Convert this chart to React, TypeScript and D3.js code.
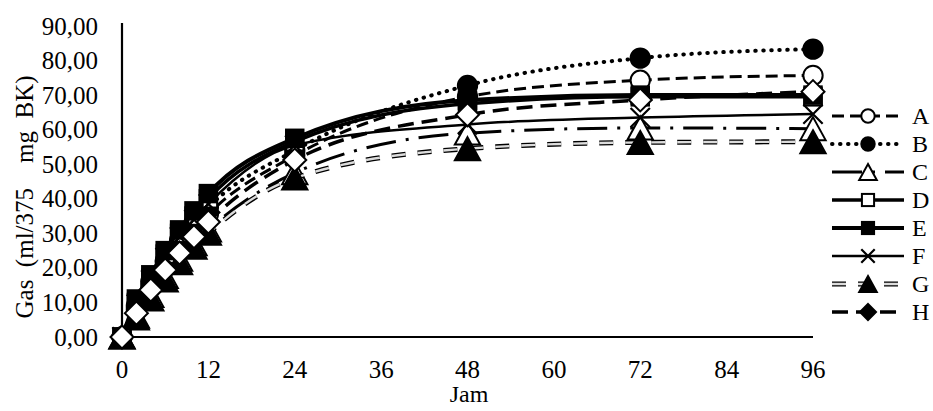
import React from "react";
import * as d3 from "d3";

const hours = [0, 2, 4, 6, 8, 10, 12, 24, 48, 72, 96];
const seriesNames = ["A", "B", "C", "D", "E", "F", "G", "H"];
const seriesA = [0, 8, 14.5, 20.5, 26, 31, 35.5, 52.5, 69.5, 74.3, 75.7];
const seriesB = [0, 9, 16, 22, 28, 33, 37.5, 54, 72.8, 80.7, 83.3];
const seriesC = [0, 6, 12, 17.5, 22.5, 27, 31, 47.5, 59, 60.5, 60.3];
const seriesD = [0, 10, 17, 24, 30, 35, 40, 56.5, 67.5, 69.5, 69.5];
const seriesE = [0, 11, 18, 25, 31, 36.5, 41.5, 57.5, 68.5, 70, 70];
const seriesF = [0, 9.5, 16.5, 23, 29, 34, 38.5, 55.5, 61.5, 63.5, 64.5];
const seriesG = [0, 5.5, 11, 16.5, 21.5, 26, 30, 46, 54.5, 56.3, 56.5];
const seriesH = [0, 6.9, 13.6, 19.4, 24.3, 29, 33.3, 51.2, 64.3, 68.6, 71];
const seriesValues = [seriesA, seriesB, seriesC, seriesD, seriesE, seriesF, seriesG, seriesH];
const xTicks = [0, 12, 24, 36, 48, 60, 72, 84, 96];
const yTicks = [0, 10, 20, 30, 40, 50, 60, 70, 80, 90];

type Style = {
  dash: string | null;
  width: number;
  cap: "butt" | "round";
  marker: string;
  fill: string;
  legendFill?: string;
  inner?: string;
};

const styles: Style[] = [
  { dash: "12,6", width: 3, cap: "butt", marker: "circle", fill: "white" },
  { dash: "0.5,7.5", width: 4, cap: "round", marker: "circle", fill: "black" },
  { dash: "30,10,3,10", width: 3, cap: "butt", marker: "triangle", fill: "white" },
  { dash: null, width: 3.5, cap: "butt", marker: "square", fill: "white" },
  { dash: null, width: 4, cap: "butt", marker: "square", fill: "black" },
  { dash: null, width: 2.5, cap: "butt", marker: "x", fill: "none" },
  { dash: "14,12", width: 5, cap: "butt", marker: "triangle", fill: "black", inner: "#dcdcdc" },
  { dash: "16,8", width: 3.5, cap: "butt", marker: "diamond", fill: "white", legendFill: "black" },
];

const FONT = '"Liberation Serif", "Times New Roman", serif';

function Marker({ type, cx, cy, s, fill }: { type: string; cx: number; cy: number; s: number; fill: string }) {
  const sw = 2;
  if (type === "circle") return <circle cx={cx} cy={cy} r={s * 0.42} fill={fill} stroke="black" strokeWidth={sw} />;
  if (type === "square")
    return <rect x={cx - s * 0.38} y={cy - s * 0.38} width={s * 0.76} height={s * 0.76} fill={fill} stroke="black" strokeWidth={sw} />;
  if (type === "triangle") {
    const w = s * 0.55, h = s * 0.5;
    return <path d={`M${cx},${cy - h}L${cx + w},${cy + h}L${cx - w},${cy + h}Z`} fill={fill} stroke="black" strokeWidth={sw} strokeLinejoin="miter" />;
  }
  if (type === "diamond") {
    const h = s * 0.5;
    return <path d={`M${cx},${cy - h}L${cx + h},${cy}L${cx},${cy + h}L${cx - h},${cy}Z`} fill={fill} stroke="black" strokeWidth={sw} />;
  }
  if (type === "x") {
    const h = s * 0.42;
    return <path d={`M${cx - h},${cy - h}L${cx + h},${cy + h}M${cx - h},${cy + h}L${cx + h},${cy - h}`} stroke="black" strokeWidth={2.2} fill="none" />;
  }
  return null;
}

export default function App() {
  const width = 933, height = 411;
  const x = d3.scaleLinear().domain([0, 96]).range([122, 813]);
  const y = d3.scaleLinear().domain([0, 90]).range([337, 26]);
  const fmt = (v: number) => d3.format(".2f")(v).replace(".", ",");
  const line = d3
    .line<number>()
    .x((_, i) => x(hours[i]))
    .y((d) => y(d))
    .curve(d3.curveMonotoneX);

  const legX0 = 832, legX1 = 904, legMX = 868, legTX = 912, legY0 = 116, legDY = 28;

  return (
    <svg width={width} height={height} style={{ position: "absolute", left: 0, top: 0, background: "white" }}>
      {/* axes */}
      <line x1={x(0)} x2={x(0)} y1={y(90) - 3} y2={y(0)} stroke="black" strokeWidth={2.2} />
      <line x1={x(0)} x2={x(96)} y1={y(0)} y2={y(0)} stroke="black" strokeWidth={2.2} />
      {yTicks.map((t) => (
        <text key={"y" + t} x={98} y={y(t)} textAnchor="end" dominantBaseline="central" fontFamily={FONT} fontSize={25}>
          {fmt(t)}
        </text>
      ))}
      {xTicks.map((t) => (
        <text key={"x" + t} x={x(t)} y={369} textAnchor="middle" dominantBaseline="central" fontFamily={FONT} fontSize={25}>
          {t}
        </text>
      ))}
      <text x={469} y={394} textAnchor="middle" dominantBaseline="central" fontFamily={FONT} fontSize={24}>
        Jam
      </text>
      <text
        transform={`translate(24,197) rotate(-90)`}
        textAnchor="middle"
        dominantBaseline="central"
        fontFamily={FONT}
        fontSize={25}
        style={{ whiteSpace: "pre" }}
      >
        {"Gas  (ml/375    mg  BK)"}
      </text>

      {/* series */}
      {seriesValues.map((vals, si) => {
        const st = styles[si];
        const d = line(vals) || "";
        return (
          <g key={"s" + si}>
            <path d={d} fill="none" stroke="black" strokeWidth={st.width} strokeDasharray={st.dash || undefined} strokeLinecap={st.cap} />
            {st.inner && <path d={d} fill="none" stroke={st.inner} strokeWidth={st.width - 2.6} strokeDasharray={st.dash || undefined} />}
            {vals.map((v, i) => (
              <Marker key={i} type={st.marker} cx={x(hours[i])} cy={y(v)} s={23} fill={st.fill} />
            ))}
          </g>
        );
      })}

      {/* legend */}
      {seriesNames.map((name, si) => {
        const st = styles[si];
        const ly = legY0 + si * legDY;
        const d = `M${legX0},${ly}L${legX1},${ly}`;
        return (
          <g key={"l" + si}>
            <path d={d} fill="none" stroke="black" strokeWidth={st.width} strokeDasharray={st.dash || undefined} strokeLinecap={st.cap} />
            {st.inner && <path d={d} fill="none" stroke={st.inner} strokeWidth={st.width - 2.6} strokeDasharray={st.dash || undefined} />}
            <Marker type={st.marker} cx={legMX} cy={ly} s={16} fill={st.legendFill || st.fill} />
            <text x={legTX} y={ly} dominantBaseline="central" fontFamily={FONT} fontSize={24}>
              {name}
            </text>
          </g>
        );
      })}
    </svg>
  );
}
